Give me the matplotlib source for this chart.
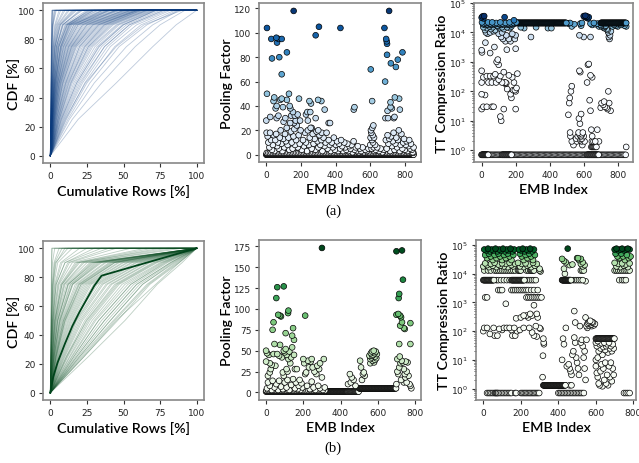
import numpy as np
import matplotlib
matplotlib.use("Agg")
import matplotlib.pyplot as plt
from matplotlib.colors import Normalize
from matplotlib.ticker import LogLocator, NullFormatter

# ---------------- CDF curves: x (cumulative rows %) where CDF reaches 25/50/75/90/100 %
cdf_a_x25 = [0.2,0.3,0.3,0.4,0.4,0.5,0.5,0.6,0.6,0.7,0.8,0.8,0.9,1,1,1.2,1.3,1.4,1.5,1.7,1.9,2.1,2.3,2.6,2.9,3.2,3.6,4,4.5,5,5.6,6.3,7,8,9.5,11,10,19,
             0.2,0.3,0.4,0.5,0.7,0.9,1.1,1.3,1.6,2,2.4,2.8,3.4,4.2,5.2,6,7.5,8.5,13,15,
             0.3,0.45,0.55,0.65,0.75,0.85,0.95,1.05,1.15,1.25,1.35,1.45,1.6,1.8,2,2.2,2.5,2.75,3,3.4,3.8,4.2,4.8,5.3,6,6.7,7.5,9,10.5,12]
cdf_a_x50 = [0.4,0.6,0.6,0.8,0.9,1.0,1.2,1.4,1.6,1.8,2,2.2,2.5,2.8,3,3.3,3.6,4,4.4,4.8,5.2,5.7,6.2,6.8,7.5,8.2,9,10,11,12,13.5,15,17,19,22,25,24,45,
             0.5,0.5,0.7,1.1,1.5,2.1,2.6,3.4,4.1,5,6,7,8.5,10.5,12.5,14,18,20,30,35,
             0.7,1,1.3,1.5,1.9,2.3,2.6,2.9,3.1,3.5,3.8,4.2,4.6,5,5.5,6,6.5,7.2,7.8,8.6,9.5,10.5,11.5,12.8,14.3,16,18,21,23.5,27]
cdf_a_x75 = [0.6,0.9,1.0,1.3,1.6,2,2.5,3,3.5,4,4.5,5,5.5,6,7,7.5,8,9,10,11,12,13,14,15,16,17.5,19,21,23,25,27,29,32,35,39,44,45,70,
             0.8,0.8,1.1,2.2,3.2,4.2,5.8,7,9,10.5,12.5,14.5,17,20,23.5,26,33,37,52,58,
             1.2,1.8,2.8,3.3,4.2,5,5.7,6.5,7.2,7.8,8.5,9.5,10.5,11.5,12.5,13.5,14.5,15.5,16.5,18,20,22,24,26,28,30.5,33.5,37,41,47]
cdf_a_x90 = [0.8,1.2,1.5,2,3,4,5,6,7,8,9,10,11,12,13,14,15,17,18,20,22,24,26,28,30,32,34,36,38,40,43,46,49,52,56,62,64,86,
             1.1,1,1.6,4.5,6.5,8.5,11.5,13,16,19,22,25,29,33,37,41,50,54,70,75,
             1.8,3.5,5.5,6.8,8.5,10.5,11.5,12.5,13.5,14.5,16,17.5,19,21,23,25,27,29,31,33,35,37,39,42,45,47,50,54,59,66]
cdf_a_x100 = [1,1.5,2.5,4,6,9,12,15,18,22,25,28,30,32,35,38,40,42,45,47,50,52,54,56,58,60,60,62,64,66,68,70,72,75,80,85,90,100,
              1.4,1.3,3,10,16,20,26,30,36,40,45,50,55,58,62,66,72,78,88,92,
              3.5,7,13,17,21,27,29,33,36,39,41,44,46,48,51,53,55,57,59,60,61,63,65,67,69,71,73,77,82,87]

cdf_b_x25 = [0.2,0.3,0.3,0.4,0.5,0.5,0.6,0.7,0.8,1,1.2,1.4,1.6,1.9,2.2,2.5,2.9,3.3,3.8,4.3,4.9,5.5,6.2,7,8,9,10,11.5,13,14.5,16,18,20,23,26,
             0.3,0.6,0.9,1.3,1.8,2.4,3,4,5.2,6.6,8.5,10.8,12,15,17,19,21,23,2,3.5,
             0.4,0.7,1.1,1.5,2,2.7,3.6,4.6,5.8,7.5,9.5,11,13.5,16,18,20,22,1.2,2.5,4]
cdf_b_x50 = [0.4,0.5,0.6,0.9,1.0,1.2,1.5,1.8,2,2.5,3,3.6,4.2,5,5.8,6.6,7.5,8.5,9.5,10.5,12,13.5,15,16.5,18,20,22,24.5,27,30,33,37,41,46,51,
             0.7,1.4,2.2,3.3,4.6,6.2,8,10,12.7,15.8,19,23.5,26,31,35,39,43,45,5,9,
             0.8,1.7,2.8,3.9,5.2,7,9,11.2,14.2,17.5,21,25,28.5,33,37,41,44,3.2,6.5,10]
cdf_b_x75 = [0.6,0.8,1,1.6,2,2.5,3.5,4,5,6,7.5,9,10,12,13.5,15,17,19,21,23,25,27,29.5,32,35,38,41,44,47,51,55,59,63,68,73,
             1.3,3,5.5,8,11,14,18,22,26,31,36,42,46,53,57,61,66,72,12,20,
             1.8,4,7,9.5,12.5,15.5,19.5,24,28,33.5,39,45,49,55,59,63,67,8,15,21]
cdf_b_x90 = [0.8,1,1.5,3,4,5,8,10,12,15,18,22,25,28,31,34,37,40,43,46,49,52,55,58,61,64,67,70,73,76,79,82,85,88,90,
             2.5,7,13,20,27,32,38,44,50,56,62,68,72,77,80,83,86,88,30,42,
             3.5,10,17,23,29,35,41,47,53,59,65,71,75,78,82,84,87,19,33,44]
cdf_b_x100 = [1,1.2,3,8,10,15,25,30,40,55,70,85,100,100,100,100,100,100,100,100,100,100,100,100,100,100,100,100,100,100,100,100,100,100,100,
              6,20,45,75,100,100,100,100,100,100,100,100,100,100,100,100,100,100,100,100,
              12,35,65,90,100,100,100,100,100,100,100,100,100,100,100,100,100,80,100,100]

cdf_b_dark_x = [0, 2, 5, 10, 15, 20, 25, 30, 35, 100]
cdf_b_dark_y = [0, 11, 21, 34, 46, 56, 65, 74, 81, 100]

# ---------------- Pooling factor (a)
pf_a_x = [4,29,58,62,71,89,33,75,89,119,158,285,304,428,603,682,692,695,697,697,686,709,719,748,759,786,
          4,0,23,46,42,54,60,81,89,96,119,131,135,139,144,154,170,181,189,229,237,249,258,254,285,299,318,337,360,368,505,509,611,688,703,717,717,736,742,767,771,60,70,100,110,160,165,195,240,262,300,320,700,725,740,
          2,8,12,18,22,28,33,38,42,47,52,57,63,67,72,78,83,88,93,98,104,108,113,118,123,128,133,138,142,147,152,157,162,166,172,176,182,187,193,198,
          205,212,218,224,229,235,240,246,251,256,262,268,273,279,284,290,296,301,307,312,318,324,330,336,342,348,354,360,366,372,378,384,390,396,402,408,414,420,426,432,438,444,450,
          456,462,468,474,480,486,492,498,504,510,516,522,528,534,540,548,556,564,572,580,590,
          600,602,604,606,608,610,612,614,616,618,620,622,624,628,632,640,650,660,670,680,
          690,695,700,705,710,715,720,725,730,735,740,745,750,755,760,765,770,775,780,785,790,795,800,805,810,815,820,825,830,835,840,845,850]
pf_a_y = [104,95,96,92,95,95,79,80,66,84,118,98,105,104,70,104,95,93,91,82,60,118,75,72,78,84,
          50,28,31,47,44,38,40,45,46,39,45,50,40,38,32,35,28,33,46,33,35,44,42,35,30,45,44,37,26,26,37,39,44,30,30,43,39,30,47,46,37,30,32,27,30,26,32,28,28,22,20,18,36,38,31,
          18,15,10,6,18,12,4,8,16,3,12,17,7,10,5,14,20,9,3,13,6,17,11,22,8,14,4,26,19,10,5,15,21,8,12,24,6,16,9,20,
          4,12,7,18,10,3,20,8,14,22,5,17,9,13,4,19,11,6,16,8,12,3,14,7,10,18,5,12,8,3,10,6,14,4,8,11,3,9,5,12,7,3,10,
          6,4,9,3,7,5,8,2,11,4,6,3,7,2,5,3,6,2,4,3,5,
          8,14,20,18,5,12,22,16,10,24,6,14,3,8,4,6,3,5,2,4,
          12,5,16,9,13,3,15,7,11,18,4,9,14,6,12,20,3,8,17,5,10,13,4,8,11,3,7,12,5,9,4,2,6]
# bands: start, stop, step, value
pf_a_band_start = [0, 3]
pf_a_band_stop = [852, 852]
pf_a_band_step = [2, 9]
pf_a_band_val = [0, 1.5]

# ---------------- TT compression ratio (a)
tt_a_x = [0,5,10,15,135,600,605,610,615,620,625,630,190,
          2,8,14,20,26,32,38,44,50,56,62,68,74,80,86,92,98,104,110,116,122,128,140,146,152,158,164,170,176,182,188,196,204,
          10,20,30,45,55,65,80,95,105,120,130,150,165,175,230,250,320,390,410,530,
          25,35,50,70,100,115,125,140,145,160,170,180,195,290,120,200,
          580,585,590,640,650,660,670,680,690,700,705,710,715,720,725,730,735,740,745,748,752,755,760,770,780,790,800,820,840,850,575,600,640,545,510,520,
          0,2,22,50,75,88,95,100,148,200,0,0,0,10,20,30,40,50,60,70,80,85,100,110,130,135,140,150,160,170,175,180,190,200,210,205,0,10,30,60,70,130,200,110,115,140,145,120,185,195,
          510,515,518,525,530,520,522,530,540,555,565,570,575,578,582,572,578,585,588,592,575,580,595,600,605,620,625,630,640,650,635,640,645,650,655,680,690,700,705,715,720,725,735,740,745,750,758,850,560,590,
          645,650,655,660,665,670,675,648,658,668,585,590,580]
tt_a_y = [3.2e4,3.5e4,3.0e4,3.6e4,3.3e4,3.6e4,3.4e4,3.7e4,3.2e4,3.5e4,3.0e4,3.3e4,2.6e4,
          2.2e4,1.9e4,2.0e4,1.8e4,2.1e4,1.9e4,2.2e4,1.8e4,2.0e4,1.9e4,2.2e4,1.8e4,2.0e4,1.9e4,2.1e4,1.7e4,2.0e4,1.9e4,2.2e4,1.8e4,2.0e4,1.9e4,2.1e4,1.8e4,2.0e4,1.9e4,2.2e4,1.8e4,2.0e4,1.9e4,2.1e4,2.0e4,2.2e4,
          1.5e4,1.2e4,1.4e4,1.6e4,1.3e4,1.5e4,1.2e4,1.6e4,1.4e4,1.5e4,1.3e4,1.5e4,1.4e4,1.6e4,1.5e4,1.4e4,1.5e4,1.4e4,1.4e4,1.6e4,
          1.0e4,9e3,1.0e4,1.1e4,9e3,7e3,6e3,5e3,8e3,6e3,5e3,9e3,6e3,7e3,1.0e4,8e3,
          2.0e4,1.7e4,2.1e4,2.0e4,1.8e4,2.1e4,1.9e4,2.0e4,1.6e4,1.8e4,1.6e4,1.7e4,1.5e4,1.4e4,1.6e4,1.7e4,1.3e4,1.2e4,1.0e4,7e3,6e3,8e3,1.1e4,1.6e4,1.8e4,1.7e4,1.6e4,1.8e4,1.7e4,1.6e4,8e3,7e3,7e3,1.9e4,2.0e4,2.1e4,
          2500,2100,4500,2000,3200,1000,1200,800,2600,2800,500,200,80,300,75,330,200,330,200,330,380,200,250,330,450,200,180,120,350,80,60,300,200,100,400,130,25,30,30,30,30,25,25,14,10,200,190,200,110,110,
          16,40,60,100,150,4,3,2,1.5,2.5,3,4,3.5,2.5,3,12,8,17,2,1.5,500,450,4,3,2,200,800,850,350,300,50,22,5,3,2,5,2,28,40,35,45,30,28,25,100,40,22,1.3,2,3.5,
          1.3,1.3,1.3,1.3,1.3,1.3,1.3,2,2,2,3,2.5,2.2]
tt_a_band_start = [210, 700, 0, 0, 120, 620]
tt_a_band_stop = [500, 852, 852, 40, 180, 690]
tt_a_band_step = [2, 2, 7, 3, 4, 4]
tt_a_band_val = [2.1e4, 2.1e4, 0.7, 0.7, 0.7, 0.7]

# ---------------- Pooling factor (b)
pf_b_x = [300,700,730,735,715,712,60,55,95,65,75,80,120,118,40,35,210,700,710,720,725,730,740,745,775,720,715,775,105,140,150,145,
          0,5,15,20,25,30,40,45,50,60,70,75,85,95,100,105,110,120,125,130,135,140,150,155,165,180,200,205,210,215,225,230,240,245,250,260,270,275,285,290,300,310,20,10,0,90,95,115,110,
          555,560,563,566,569,572,575,578,580,583,586,589,592,595,585,570,560,
          505,510,520,525,530,515,450,455,460,470,440,480,
          705,710,715,718,722,728,735,740,745,748,750,755,760,765,770,775,780,725,740,755,705,700,
          5,10,20,30,35,45,55,65,70,80,90,100,110,115,125,135,145,155,160,170,175,185,190,195,220,235,245,255,265,280,290,305,315]
pf_b_y = [173,169,170,135,118,113,126,113,127,93,92,91,98,95,84,75,92,93,94,92,90,84,77,76,83,80,58,58,71,68,63,77,
          50,47,45,35,28,33,46,58,32,46,44,57,42,50,48,52,45,40,49,35,42,54,45,28,28,15,40,35,22,24,38,30,37,40,30,25,22,32,28,35,18,40,24,20,37,24,20,25,28,
          44,40,47,42,49,38,45,50,36,47,43,49,41,46,39,44,35,
          38,30,22,24,20,15,22,12,18,15,10,8,
          40,22,30,43,35,38,36,28,22,18,37,25,36,20,10,8,5,15,12,12,25,10,
          5,12,8,3,14,6,10,3,14,7,4,12,6,15,3,9,16,5,12,4,8,3,11,6,8,4,13,6,3,8,5,3,6]
pf_b_band_start = [0, 320, 440, 500, 2]
pf_b_band_stop = [320, 440, 500, 700, 320]
pf_b_band_step = [3, 2, 3, 2, 9]
pf_b_band_val = [1, 1, 1, 5, 2.5]

# ---------------- TT compression ratio (b)
tt_b_x = [5,15,25,35,45,55,65,75,85,95,105,115,125,135,145,155,165,190,200,210,220,230,240,250,260,270,450,700,710,720,730,740,750,760,770,780,
          10,20,30,40,50,60,70,80,90,100,110,120,130,140,150,160,195,205,215,225,235,245,255,265,275,420,430,440,500,510,520,530,705,715,725,735,745,755,765,775,785,505,
          0,10,20,30,40,50,60,70,80,90,100,110,120,130,140,150,160,170,185,195,205,215,225,235,245,255,265,275,285,300,305,430,435,460,475,520,530,540,700,710,720,730,740,750,760,770,780,
          5,25,40,60,70,80,90,100,110,120,130,140,150,160,170,185,190,195,200,230,240,250,255,260,265,270,300,520,528,536,700,710,720,730,740,750,760,770,780,
          70,80,95,110,125,140,230,240,250,260,270,280,480,490,500,510,520,530,545,725,740,750,760,
          80,90,100,150,160,170,180,190,200,210,220,230,240,255,270,290,
          10,20,230,240,250,260,270,280,290,300,310,
          120,270,290,260,250,240,230,200,175,215,285,0,5,20,35,55,60,75,85,100,110,125,140,150,165,155,170,180,195,215,245,260,270,285,280,300,305,
          320,322,323,318,316,460,470,
          20,28,36,44,52,60,64,68,72,76,80,88,96,104,112,120,128,136,144,150,170,175,200,207,214,221,228,235,242,249,256,263,270,277,284,291,298,400,408,416,424,432,440,448,456,464,472,480,488,496,504,512,520,528,536,750,760,770,780,
          420,425,430,440,445,455,460,465,470,475,480,485,490,485,490,495,500,505,510,515,520,525,530,535,540,545,540,550,555,545,
          550,555,560,565,570,575,580,585,590,595,562,578,570,
          600,605,610,615,620,625,630,635,640,645,650,655,660,665,670,675,680,685,690,695,600,605,610,615,620,625,630,635,640,645,650,655,660,665,670,675,680,685,690,695,600,610]
tt_b_y = [7e4,6.5e4,7.5e4,6e4,7e4,6.5e4,7.5e4,6e4,7e4,6.5e4,7.5e4,6e4,7e4,6.5e4,7.5e4,6e4,7e4,7e4,6.5e4,7.5e4,6e4,7e4,6.5e4,7.5e4,6e4,7e4,7.5e4,7e4,7.5e4,6.5e4,7e4,7.5e4,6.5e4,7e4,7.5e4,7e4,
          4.5e4,3.5e4,5e4,4e4,3e4,4.5e4,3.5e4,5e4,4e4,3e4,4.5e4,3.5e4,5e4,4e4,3e4,4.5e4,5e4,4e4,3e4,4.5e4,3.5e4,5e4,4e4,3e4,4.5e4,3.3e4,2.8e4,2.5e4,3.5e4,3e4,3.3e4,2.5e4,5e4,4e4,3.5e4,5e4,4e4,3e4,4.5e4,3.5e4,4e4,3.5e4,
          1.8e4,2.3e4,2e4,1.7e4,2.2e4,1.9e4,2.4e4,1.7e4,2.1e4,1.9e4,2.3e4,1.8e4,2.2e4,1.7e4,2.4e4,2e4,1.8e4,2.2e4,2.4e4,1.8e4,2.2e4,1.7e4,2.3e4,1.9e4,2.1e4,1.7e4,2.4e4,1.9e4,2.2e4,1.5e4,1.2e4,1.5e4,1.0e4,2.0e4,2.1e4,2.2e4,1.8e4,2e4,2.4e4,1.8e4,2.2e4,1.7e4,2.3e4,1.9e4,2.1e4,1.7e4,2.3e4,
          1.3e4,1.3e4,1.3e4,1.3e4,1.3e4,1.3e4,1.3e4,1.3e4,1.3e4,1.3e4,1.3e4,1.3e4,1.3e4,1.3e4,1.3e4,1.3e4,1.3e4,1.3e4,1.3e4,1.3e4,1.3e4,1.3e4,1.3e4,1.3e4,1.3e4,1.3e4,1.3e4,1.3e4,1.3e4,1.3e4,1.3e4,1.3e4,1.3e4,1.3e4,1.3e4,1.3e4,1.3e4,1.3e4,1.3e4,
          6e3,6e3,6e3,6e3,6e3,6e3,6e3,6e3,6e3,6e3,6e3,6e3,6e3,6e3,6e3,6e3,6e3,6e3,5.5e3,6e3,6e3,6e3,6e3,
          2.7e3,2.7e3,2.7e3,2.7e3,2.7e3,2.7e3,2.7e3,2.7e3,2.7e3,2.7e3,2.7e3,2.7e3,2.7e3,2.7e3,2.7e3,2.7e3,
          1.5e3,1.5e3,1.5e3,1.5e3,1.5e3,1.5e3,1.5e3,1.5e3,1.5e3,1.5e3,1.5e3,
          900,800,300,350,400,300,350,300,280,350,400,100,130,130,80,130,70,70,120,110,130,130,130,110,130,70,70,100,110,130,130,90,70,65,150,130,120,
          55,40,35,14,2.5,1.3,1.3,
          0.7,0.7,0.7,0.7,0.7,0.7,0.7,0.7,0.7,0.7,0.7,0.7,0.7,0.7,0.7,0.7,0.7,0.7,0.7,0.7,0.7,0.7,0.7,0.7,0.7,0.7,0.7,0.7,0.7,0.7,0.7,0.7,0.7,0.7,0.7,0.7,0.7,0.7,0.7,0.7,0.7,0.7,0.7,0.7,0.7,0.7,0.7,0.7,0.7,0.7,0.7,0.7,0.7,0.7,0.7,0.7,0.7,0.7,0.7,
          10,55,35,130,6,7,5,4,3,15,20,500,200,60,40,12,8,5,3,150,40,50,30,12,5,2,20,50,130,300,
          150,180,200,220,190,170,210,200,160,180,160,150,230,
          40,30,45,20,35,25,38,15,28,40,22,30,35,18,40,25,30,20,35,25,10,3.5,2.5,1.5,1.3,4,7,1.2,5,2,8,1.5,3,1.3,6,2.5,8,1.8,5,3,6,12]
tt_b_band_start = [0, 150, 420, 320, 600]
tt_b_band_stop = [60, 220, 470, 440, 700]
tt_b_band_step = [3, 3, 2, 2, 3]
tt_b_band_val = [6e3, 6e3, 6e3, 1.3, 55]


def expand(x, y, starts, stops, steps, vals):
    xs = list(x)
    ys = list(y)
    for s, e, st, v in zip(starts, stops, steps, vals):
        idx = np.arange(s, e, st)
        xs += list(idx)
        ys += [v] * len(idx)
    xs = np.array(xs, float)
    ys = np.array(ys, float)
    order = np.argsort(ys, kind="stable")
    return xs[order], ys[order]


W, H = 639, 464
fig = plt.figure(figsize=(W / 100, H / 100), dpi=100)

label_font = dict(family=["Lato", "DejaVu Sans"], fontsize=10.2, fontweight="semibold")
TICK_FS = 6.5


def px_axes(l, t, r, b):
    return fig.add_axes([l / W, 1 - b / H, (r - l) / W, (b - t) / H])


def style(ax):
    for s in ax.spines.values():
        s.set_color("#888888")
        s.set_linewidth(1.2)
    ax.tick_params(labelsize=TICK_FS, length=3, width=0.8, color="#333333", pad=2.5, labelcolor="#222222")


def cdf_panel(ax, x25, x50, x75, x90, x100, color, alpha):
    lv = [0, 25, 50, 75, 90, 100, 100]
    for a, b, c, d, e in zip(x25, x50, x75, x90, x100):
        ax.plot([0, a, b, c, d, e, 100], lv, color=color, lw=0.6, alpha=alpha)
    ax.set_xlim(-5, 105)
    ax.set_ylim(-5, 105)
    ax.set_xticks([0, 25, 50, 75, 100])
    ax.set_yticks([0, 20, 40, 60, 80, 100])
    ax.set_xlabel("Cumulative Rows [%]", labelpad=3, **label_font)
    ax.set_ylabel("CDF [%]", labelpad=-1.5, **label_font)
    style(ax)


MS = 17
EW = 0.5

# ---- row (a)
ax1 = px_axes(43, 4, 204, 164)
cdf_panel(ax1, cdf_a_x25, cdf_a_x50, cdf_a_x75, cdf_a_x90, cdf_a_x100, "#0a3a7c", 0.27)

ax2 = px_axes(259, 4, 421, 163)
x, y = expand(pf_a_x, pf_a_y, pf_a_band_start, pf_a_band_stop, pf_a_band_step, pf_a_band_val)
ax2.scatter(x, y, c=y, cmap="Blues", norm=Normalize(0, 122), s=MS, edgecolors="black", linewidths=EW)
ax2.set_xlim(-42, 893)
ax2.set_ylim(-6, 124.5)
ax2.set_xticks([0, 200, 400, 600, 800])
ax2.set_yticks([0, 20, 40, 60, 80, 100, 120])
ax2.set_xlabel("EMB Index", labelpad=3, **label_font)
ax2.set_ylabel("Pooling Factor", labelpad=1, **label_font)
style(ax2)

ax3 = px_axes(474, 4, 633, 163)
x, y = expand(tt_a_x, tt_a_y, tt_a_band_start, tt_a_band_stop, tt_a_band_step, tt_a_band_val)
ax3.scatter(x, y, c=y, cmap="Blues", norm=Normalize(0, 3.6e4), s=MS, edgecolors="black", linewidths=EW)
ax3.set_yscale("log")
ax3.set_xlim(-45, 890)
ax3.set_ylim(0.4, 1e5)
ax3.set_xticks([0, 200, 400, 600, 800])
ax3.set_xlabel("EMB Index", labelpad=3, **label_font)
ax3.set_ylabel("TT Compression Ratio", labelpad=1, **label_font)
style(ax3)

# ---- row (b)
ax4 = px_axes(43, 242, 204, 401)
cdf_panel(ax4, cdf_b_x25, cdf_b_x50, cdf_b_x75, cdf_b_x90, cdf_b_x100, "#0a4d22", 0.27)
ax4.plot(cdf_b_dark_x, cdf_b_dark_y, color="#00441b", lw=1.3)

ax5 = px_axes(259, 241, 421, 401)
x, y = expand(pf_b_x, pf_b_y, pf_b_band_start, pf_b_band_stop, pf_b_band_step, pf_b_band_val)
ax5.scatter(x, y, c=y, cmap="Greens", norm=Normalize(0, 175), s=MS, edgecolors="black", linewidths=EW)
ax5.set_xlim(-38, 832)
ax5.set_ylim(-9, 182.5)
ax5.set_xticks([0, 200, 400, 600, 800])
ax5.set_yticks([0, 25, 50, 75, 100, 125, 150, 175])
ax5.set_xlabel("EMB Index", labelpad=3, **label_font)
ax5.set_ylabel("Pooling Factor", labelpad=1, **label_font)
style(ax5)

ax6 = px_axes(476, 241, 636, 401)
x, y = expand(tt_b_x, tt_b_y, tt_b_band_start, tt_b_band_stop, tt_b_band_step, tt_b_band_val)
ax6.scatter(x, y, c=y, cmap="Greens", norm=Normalize(0, 7.6e4), s=MS, edgecolors="black", linewidths=EW)
ax6.set_yscale("log")
ax6.set_xlim(-39, 814)
ax6.set_ylim(0.4, 1.5e5)
ax6.set_xticks([0, 200, 400, 600, 800])
ax6.set_xlabel("EMB Index", labelpad=3, **label_font)
ax6.set_ylabel("TT Compression Ratio", labelpad=1, **label_font)
style(ax6)

for ax in (ax3, ax6):
    ax.yaxis.set_major_locator(LogLocator(base=10, numticks=10))
    ax.yaxis.set_minor_locator(LogLocator(base=10, subs=np.arange(2, 10), numticks=20))
    ax.yaxis.set_minor_formatter(NullFormatter())
    ax.tick_params(which="minor", length=1.5, width=0.6, color="#333333")

fig.text(333 / W, 1 - 211 / H, "(a)", ha="center", va="center", family=["Liberation Serif"], fontsize=10.5)
fig.text(333 / W, 1 - 448 / H, "(b)", ha="center", va="center", family=["Liberation Serif"], fontsize=10.5)

fig.savefig("out.png", dpi=100)
